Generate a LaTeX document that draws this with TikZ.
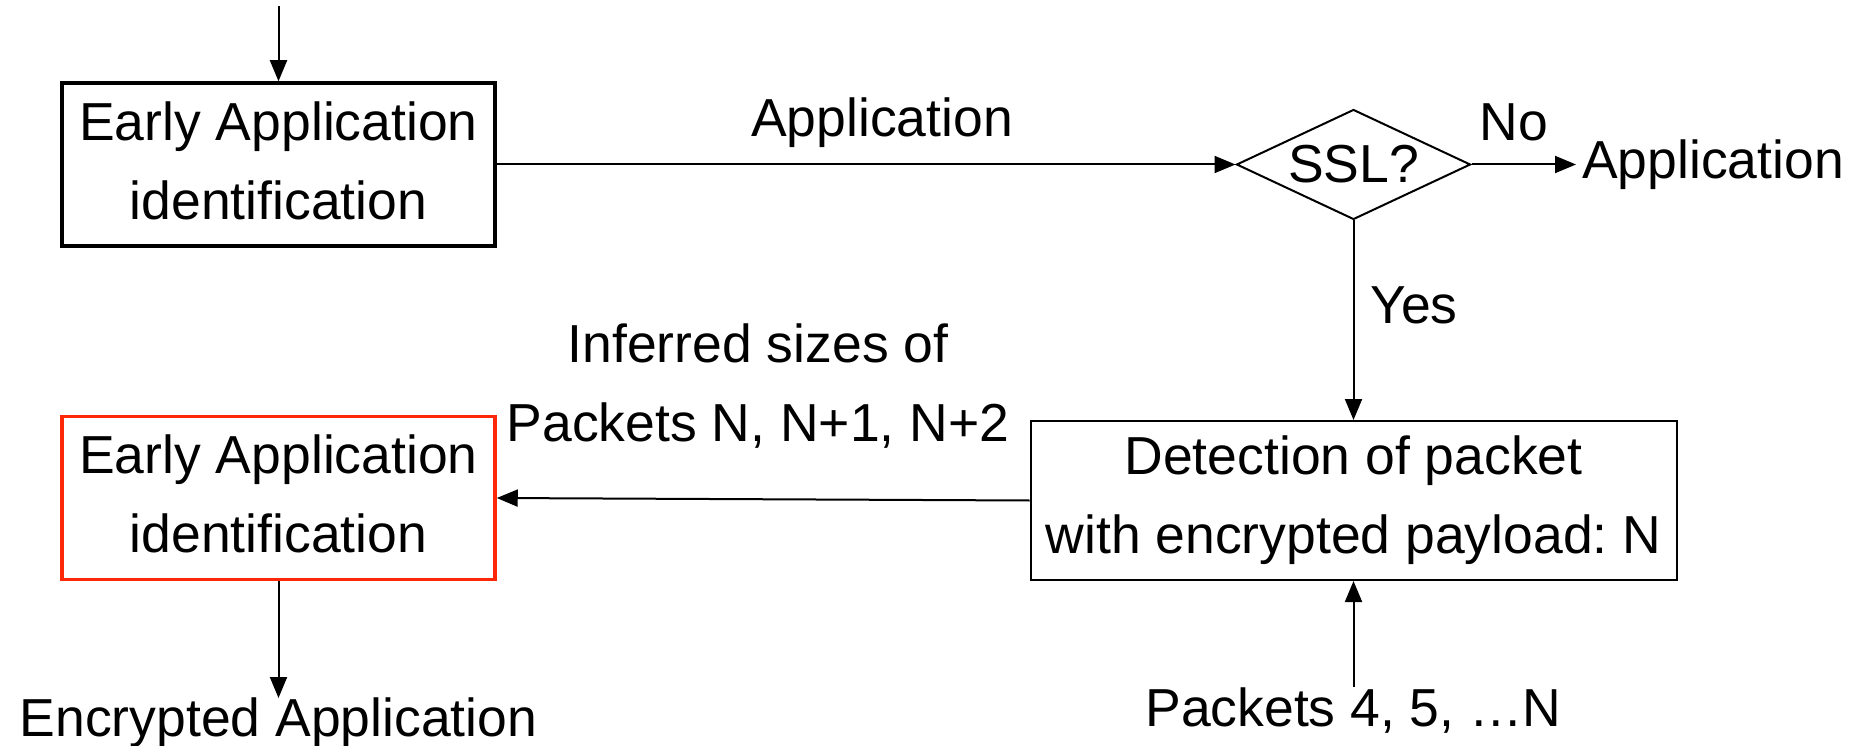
\documentclass[tikz,border=0pt]{standalone}
\usepackage{fontspec}
\setmainfont{Liberation Sans}
\usetikzlibrary{shapes.geometric,arrows.meta}
\definecolor{alertred}{RGB}{252,40,8}
\begin{document}
\frenchspacing
\begin{tikzpicture}[x=1pt,y=-1pt,
  every node/.style={font=\fontsize{53.5}{79}\selectfont, inner sep=0pt},
  conn/.style={line width=2pt, -{Triangle[length=21pt,width=17pt]}},
  procbox/.style={draw, align=center, minimum width=433pt, minimum height=163pt, text depth=8pt},
  decision/.style={draw, diamond, line width=2pt, minimum width=234pt, minimum height=110pt, aspect=2.13}
]
\useasboundingbox (0,0) rectangle (1869,746);

% processing stages
\node[procbox, line width=3.5pt] (early1) at (278.5,164.5) {Early Application\\identification};
\node[decision] (ssl) at (1353.5,164.5) {SSL?};
\node[procbox, draw=alertred, line width=3.5pt] (early2) at (278.5,498) {Early Application\\identification};
\node[draw, align=center, line width=2pt, minimum width=646pt, minimum height=159pt] (detect) at (1353.5,500.5)
  {Detection of packet\\with encrypted payload: N};

% inputs and outputs
\coordinate (entry) at (278.5,6);
\node[anchor=west, inner xsep=6pt] (outapp) at (1576,164.5) {Application};
\node[anchor=base] (encapp) at (278.5,736) {Encrypted Application};
\node[anchor=base] (pkts) at (1353.5,726) {Packets 4, 5, \ldots N};
\coordinate (encin) at (278.5,698);
\coordinate (pktsout) at (1353.5,687);

% labels
\node (lblapp) at (882,123) {Application};
\node (lblno) at (1514,122) {No};
\node (lblyes) at (1414,305) {Yes};
\node[align=center] (lblinf) at (758,386) {Inferred sizes of\\Packets N, N+1, N+2};

% connectors
\draw[conn] (entry) -- (early1.north);
\draw[conn] (early1.east) -- (ssl.west);
\draw[conn] (ssl.east) -- (outapp.west);
\draw[conn] (ssl.south) -- (detect.north);
\draw[conn] (detect.west) -- (early2.east);
\draw[conn] (early2.south) -- (encin);
\draw[conn] (pktsout) -- (detect.south);
\end{tikzpicture}
\end{document}
